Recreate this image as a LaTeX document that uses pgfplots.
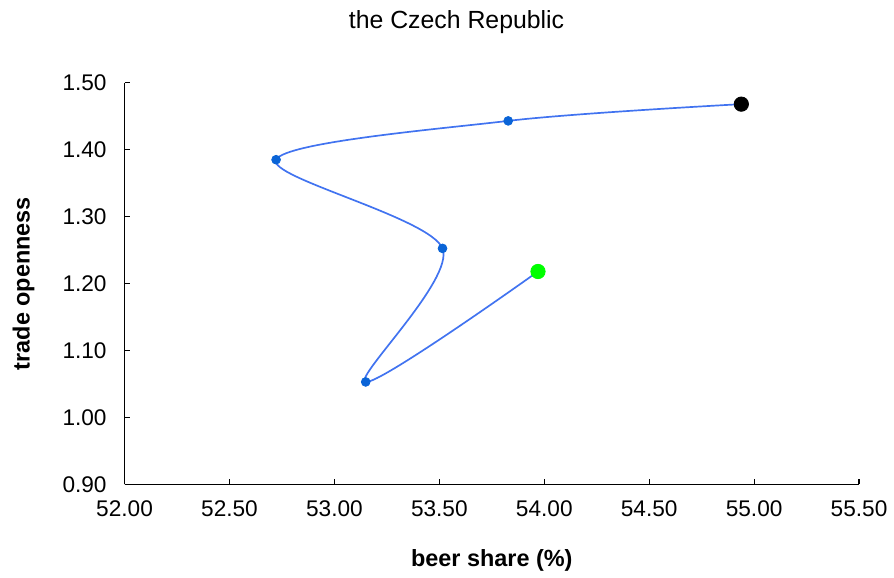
\documentclass[border=0pt]{standalone}
\usepackage{pgfplots}
\pgfplotsset{compat=1.18}
\usepackage{fontspec}
\setmainfont{Liberation Sans}
\definecolor{linecol}{RGB}{65,115,240}
\definecolor{dotcol}{RGB}{10,100,215}
\definecolor{dotgreen}{RGB}{0,255,0}
\begin{document}
\begin{tikzpicture}
\begin{axis}[
  scale only axis,
  width=368.5bp, height=201.5bp,
  xmin=52, xmax=55.5, ymin=0.9, ymax=1.5,
  xtick={52,52.5,...,55.5},
  ytick={0.9,1.0,...,1.5},
  axis x line=bottom, axis y line=left,
  axis line style={-, line width=0.6pt},
  tick align=inside,
  major tick length=2.8bp,
  tick style={black, line width=0.6pt},
  /pgf/number format/assume math mode=true,
  /pgf/number format/.cd, fixed, fixed zerofill, precision=2, /tikz/.cd,
  ticklabel style={font=\fontsize{11.4}{14}\selectfont},
  xticklabel style={yshift=-4.5bp},
  yticklabel style={xshift=-5.5bp},
  xlabel={\textbf{beer share (\%)}},
  ylabel={\textbf{trade openness}},
  label style={font=\fontsize{11.8}{14}\selectfont},
  xlabel style={at={(0.5,0)}, anchor=center, yshift=-38bp},
  every axis y label/.append style={at={(rel axis cs:-0.1375,0.5)}, anchor=center},
  every axis title shift=0pt,
  title={the Czech Republic},
  title style={font=\fontsize{12.5}{15}\selectfont, at={(0.452,1)}, anchor=center, yshift=30.5bp},
  clip=false,
]
\path (rel axis cs:-0.1696,-0.2283) rectangle (rel axis cs:1.0434,1.206);
\addplot[linecol, line width=0.85pt, smooth, tension=0.5, no marks] coordinates {
(53.97,1.218) (53.149,1.053) (53.515,1.2525) (52.722,1.385) (53.828,1.443) (54.939,1.468)
};
\addplot[only marks, mark=*, mark size=2.2bp, dotcol, mark options={draw=dotcol, fill=dotcol}] coordinates {
(53.149,1.053) (53.515,1.2525) (52.722,1.385) (53.828,1.443)
};
\addplot[only marks, mark=*, mark size=3.6bp, mark options={draw=dotgreen, fill=dotgreen}] coordinates {(53.97,1.218)};
\addplot[only marks, mark=*, mark size=3.6bp, mark options={draw=black, fill=black}] coordinates {(54.939,1.468)};
\end{axis}
\end{tikzpicture}
\end{document}
